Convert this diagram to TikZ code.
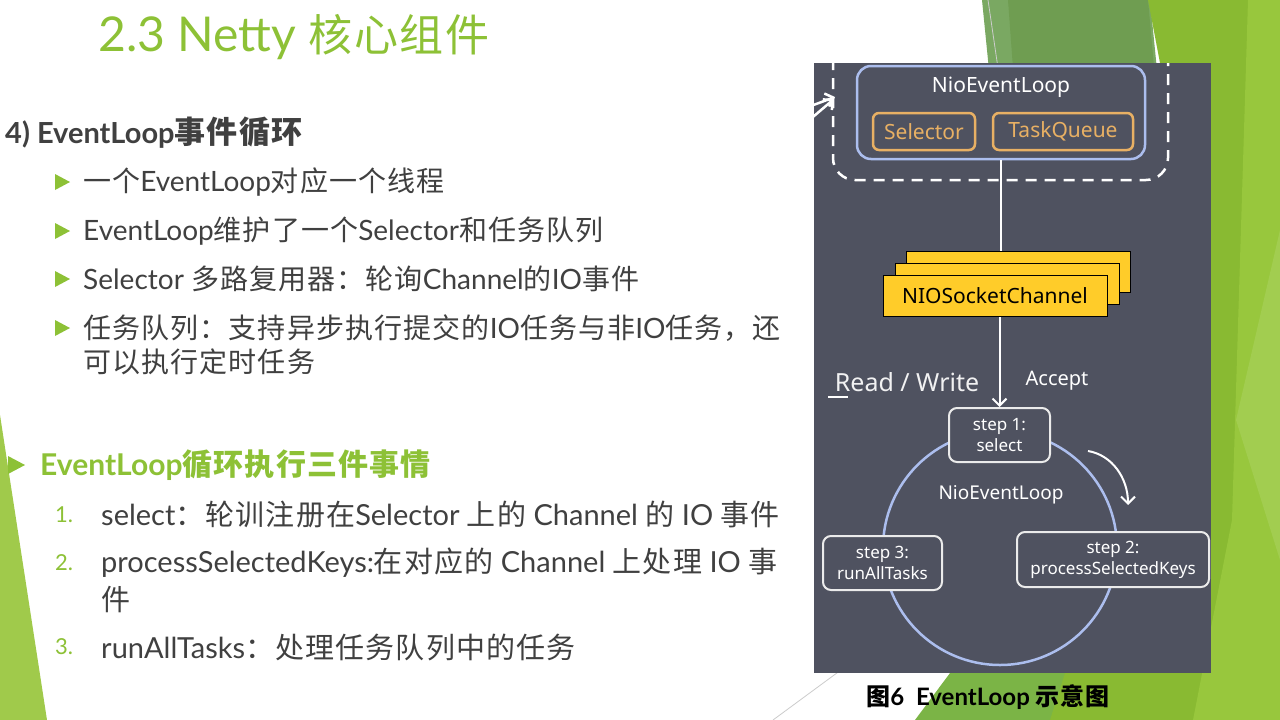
\documentclass[tikz,border=0pt]{standalone}
\usepackage{fontspec}
\setmainfont{Lato}
\newfontfamily\cjk[LetterSpace=4]{Noto Sans CJK SC}
\newfontfamily\diag{Noto Sans}
\usetikzlibrary{arrows.meta,positioning}
\definecolor{facet}{RGB}{141,193,54}
\definecolor{facetlight}{RGB}{160,202,75}
\definecolor{ink}{RGB}{64,64,64}
\definecolor{dbg}{RGB}{79,82,96}
\definecolor{lblue}{RGB}{172,190,238}
\definecolor{orng}{RGB}{232,176,100}
\definecolor{chyellow}{RGB}{255,204,41}
\definecolor{leafA}{RGB}{122,168,98}
\definecolor{leafB}{RGB}{111,157,81}
\definecolor{leafC}{RGB}{123,180,70}
\definecolor{leafD}{RGB}{137,186,50}
\definecolor{leafE}{RGB}{152,199,61}
\definecolor{leafF}{RGB}{162,205,80}
\newcommand\zh[1]{{\cjk #1}}
\newcommand\sz[2]{\fontsize{#1}{#2}\selectfont}

\begin{document}
\begin{tikzpicture}[x=1pt,y=-1pt,
  body/.style={anchor=west,text=ink,inner sep=0pt},
  lbox/.style={draw=lblue,line width=2.5pt,rounded corners=14pt,minimum width=288pt,minimum height=93pt},
  obox/.style={draw=orng,text=orng,line width=2.5pt,rounded corners=6pt,minimum height=37pt,inner sep=0pt,font=\diag\sz{21}{25}},
  chan/.style={draw=black,fill=chyellow,line width=1pt,minimum width=224pt,minimum height=41pt,inner sep=0pt},
  stepbox/.style={draw=white!92!black,fill=dbg,line width=2pt,rounded corners=8pt,align=center,text=white,inner sep=0pt,font=\diag\sz{17}{21}},
  wire/.style={draw=white,line width=2pt},
  tip/.style={-{Straight Barb[length=7pt,width=14pt]}}]
\useasboundingbox (0,0) rectangle (1280,720);
\fill[white] (0,0) rectangle (1280,720);

% facet shapes
\fill[facetlight] (0,415) -- (47,720) -- (0,720) -- cycle;
\fill[leafA] (982,0) -- (1150,0) -- (1180,300) -- (1012,300) -- cycle;
\fill[leafB] (1008,0) -- (1148,0) -- (1175,300) -- (1030,300) -- cycle;
\fill[leafC] (915,720) -- (1211,323) -- (1211,720) -- cycle;
\fill[leafD] (1148,0) -- (1280,0) -- (1280,720) -- (1050,720) -- (1065,673) -- (1160,63) -- cycle;
\fill[leafE] (1248,0) -- (1280,0) -- (1280,720) -- (1193,720) -- (1232,520) -- cycle;
\fill[leafF] (1280,230) -- (1280,560) -- (1236,420) -- cycle;
\draw[black!20,line width=0.8pt] (988,0) -- (1010,150);
\draw[black!20,line width=0.8pt] (773,720) -- (845,667);

% left side text
\node[anchor=west,inner sep=0pt,text=facet,font=\sz{48}{52}] (title) at (98,37) {2.3 Netty \zh{\sz{44}{48}核心组件}};
\node[body,font=\bfseries\sz{29}{33}] (head) at (5,133) {4) EventLoop\zh{\sz{31}{35}事件循环}};

\foreach \y in {182,231,279,328}
  \fill[facet] (55,\y-8) -- (70,\y) -- (55,\y+8) -- cycle;
\node[body,font=\sz{28}{32}] (b1) at (83,182) {\zh{一个}EventLoop\zh{对应一个线程}};
\node[body,font=\sz{28}{32}] (b2) at (83,231) {EventLoop\zh{维护了一个}Selector\zh{和任务队列}};
\node[body,font=\sz{28}{32}] (b3) at (83,279) {Selector \zh{多路复用器：轮询}Channel\zh{的}IO\zh{事件}};
\node[body,font=\sz{28}{32}] (b4) at (83,328) {\zh{任务队列：支持异步执行提交的}IO\zh{任务与非}IO\zh{任务，还}};
\node[body,font=\sz{28}{32}] (b5) at (83,362) {\zh{可以执行定时任务}};

\fill[facet] (8,456) -- (25,465) -- (8,474) -- cycle;
\node[body,text=facet,font=\bfseries\sz{30}{34}] (sub) at (40,465) {EventLoop\zh{循环执行三件事情}};

\node[body,text=facet,font=\sz{22}{26}] (k1) at (55,515) {1.};
\node[body,text=facet,font=\sz{22}{26}] (k2) at (55,563) {2.};
\node[body,text=facet,font=\sz{22}{26}] (k3) at (55,647) {3.};
\node[body,font=\sz{29}{33}] (n1) at (101,515) {select\zh{：轮训注册在}Selector \zh{上的} Channel \zh{的} IO \zh{事件}};
\node[body,font=\sz{29}{33}] (n2) at (101,563) {processSelectedKeys:\zh{在对应的} Channel \zh{上处理} IO \zh{事}};
\node[body,font=\sz{29}{33}] (n2b) at (101,600) {\zh{件}};
\node[body,font=\sz{29}{33}] (n3) at (101,647) {runAllTasks\zh{：处理任务队列中的任务}};

% diagram
\fill[dbg] (814,63) rectangle (1211,673);
\begin{scope}
\clip (814,63) rectangle (1211,673);
\draw[white,line width=2.5pt,dash pattern=on 11pt off 8pt,rounded corners=22pt] (833,40) -- (833,180) -- (1168,180) -- (1168,40);
\draw[white,line width=2.5pt,tip] (800,110) -- (835,97);
\draw[white,line width=2.5pt,tip] (800,128) -- (834,99);
\end{scope}

\node[lbox] (nel) at (1001,112.5) {};
\node[text=white,font=\diag\sz{21}{25}] (neltxt) at (1001,87) {NioEventLoop};
\node[obox,minimum width=102pt] (sel) at (924,131.5) {Selector};
\node[obox,minimum width=140pt] (tq) at (1063,131.5) {TaskQueue};

\node[chan] (chB) at (1018,272) {};
\node[chan] (chM) at (1007,284) {};
\node[chan,font=\diag\sz{21}{25}] (chF) at (995,296) {NIOSocketChannel};
\draw[wire] (nel.south) -- (nel.south |- chB.north);

\node[text=white!92!dbg,font=\diag\sz{25}{29}] (rw) at (907,382) {Read / Write};
\draw[white,line width=1.5pt] (828,397) -- (848,397);
\node[text=white,font=\diag\sz{20}{24}] (acc) at (1057,381) {Accept};

\node[circle,draw=lblue,line width=2.5pt,minimum size=234pt,inner sep=0pt] (ring) at (1000,548) {};
\node[text=white,font=\diag\sz{19}{23}] (ringtxt) at (1001,495) {NioEventLoop};

\node[stepbox,minimum width=101pt,minimum height=54pt] (s1) at (999.5,435) {step 1:\\select};
\node[stepbox,minimum width=192pt,minimum height=55pt] (s2) at (1113,559.5) {step 2:\\processSelectedKeys};
\node[stepbox,minimum width=119pt,minimum height=54pt] (s3) at (882.5,563) {step 3:\\runAllTasks};

\draw[wire,tip] (s1.north |- chF.south) -- (s1.north);
\coordinate (cwA) at (1088,451);
\coordinate (cwB) at (1128,505);
\draw[wire,tip] (cwA) .. controls (1112,455) and (1128,478) .. (cwB);

\node[text=black,font=\bfseries\sz{24}{28}] (cap) at (988,697) {\zh{图}6 \ EventLoop \zh{示意图}};
\end{tikzpicture}
\end{document}
